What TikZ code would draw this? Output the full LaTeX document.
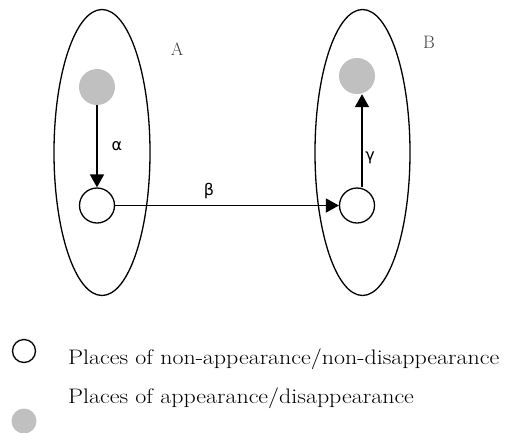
\documentclass[tikz,border=0pt]{standalone}
\usepackage{fontspec}
\setmainfont{Latin Modern Roman}
\newfontfamily\greekfont{DejaVu Sans}
\usetikzlibrary{arrows.meta}
\definecolor{placegray}{RGB}{192,192,192}
\tikzset{
  region/.style={draw=black, line width=1.3pt},
  emptyplace/.style={draw=black, line width=1.3pt, fill=white, circle, minimum size=35pt, inner sep=0pt},
  fullplace/.style={fill=placegray, draw=none, circle, minimum size=36pt, inner sep=0pt},
  flow/.style={line width=1.8pt, -{Triangle[length=13pt,width=14pt]}},
  greeklbl/.style={font=\greekfont\fontsize{16}{18}\selectfont},
  setlbl/.style={font=\fontsize{18}{20}\selectfont, text=black!75},
  legendtxt/.style={font=\fontsize{21}{24}\selectfont, anchor=base west, inner sep=0pt}
}
\newcommand{\widetext}[1]{\scalebox{1.14}[1]{#1}}
\begin{document}
\begin{tikzpicture}[x=1pt,y=-1pt]
\useasboundingbox (0,0) rectangle (511,432);
% regions
\draw[region] (102,152.5) ellipse [x radius=48, y radius=143];
\draw[region] (362.5,152.5) ellipse [x radius=47.5, y radius=143];
% places
\node[fullplace] (a1) at (97,87) {};
\node[emptyplace] (a2) at (97,205.5) {};
\node[fullplace] (b1) at (357,76) {};
\node[emptyplace] (b2) at (357,205.5) {};
% arrows
\draw[flow] (a1.south) -- (a2.north);
\draw[flow] (a2.east) -- (b2.west);
\draw[flow] ([xshift=5pt]b2.north) -- ([xshift=5pt]b1.south);
% labels
\node[greeklbl] (alpha) at (117,146) {α};
\node[greeklbl] (beta) at (209,191) {β};
\node[greeklbl] (gamma) at (370,158) {γ};
\node[setlbl] (A) at (177,49) {A};
\node[setlbl] (B) at (429,42) {B};
% legend
\node[draw=black, line width=1.3pt, circle, minimum size=23pt, inner sep=0pt] (lg1) at (24,351) {};
\node[fullplace, minimum size=25pt] (lg2) at (24,421) {};
\node[legendtxt] (t1) at (68,364) {\widetext{Places of non-appearance/non-disappearance}};
\node[legendtxt] (t2) at (68,403) {\widetext{Places of appearance/disappearance}};
\end{tikzpicture}
\end{document}
